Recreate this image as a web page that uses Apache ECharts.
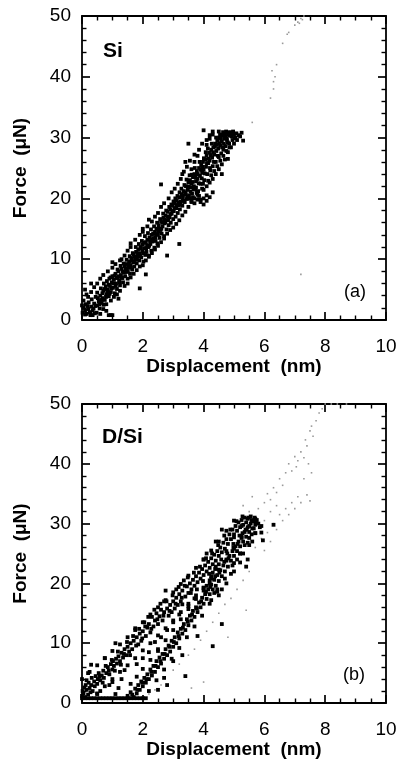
<!DOCTYPE html>
<html><head><meta charset="utf-8">
<script src="https://cdn.jsdelivr.net/npm/echarts@6/dist/echarts.min.js"></script>
<style>html,body{margin:0;padding:0;background:#fff}#c{width:398px;height:761px}</style>
</head><body><div id="c"></div>
<script>
const xTicks = [0, 2, 4, 6, 8, 10];
const yTicks = [0, 10, 20, 30, 40, 50];
const xMinorPerMajor = 4;
const yMinorPerMajor = 5;
const xTitle = "Displacement  (nm)";
const yTitle = "Force  (\u03bcN)";
const panelLabels = ["Si", "D/Si"];
const panelTags = ["(a)", "(b)"];

// ---- Panel (a) Si ----
const siDark = [
[0.02,1.2],[0.05,2.0],[0.1,1.5],[0.12,2.6],[0.15,1.0],[0.2,1.8],[0.22,2.9],[0.25,1.3],[0.3,2.2],[0.32,3.4],[0.35,1.6],[0.4,2.7],[0.42,1.1],[0.45,3.8],[0.5,2.4],[0.5,4.5],[0.55,3.1],[0.58,1.9],[0.6,4.0],[0.62,5.2],[0.65,2.8],[0.68,3.6],[0.7,4.8],[0.72,6.0],[0.75,3.3],[0.78,5.5],[0.8,4.2],[0.82,6.4],[0.85,5.0],[0.88,3.9],[0.9,6.8],[0.92,5.6],[0.95,4.6],[0.98,6.2],[1.0,7.2],[1.02,5.3],[1.05,6.6],[1.08,4.4],[1.1,7.6],[1.12,6.0],[1.15,5.1],[1.18,7.0],[1.2,8.0],[1.22,6.5],[1.25,5.7],[1.28,7.4],[1.3,8.4],[1.33,6.9],[1.35,6.2],[1.38,7.8],[1.4,8.8],[1.42,7.2],[1.45,9.2],[1.48,8.1],[1.5,6.8],[1.52,8.6],[1.55,9.6],[1.58,7.6],[1.6,9.0],[1.62,10.2],[1.65,8.3],[1.68,9.5],[1.7,10.8],[1.72,8.8],[1.75,9.9],[1.78,11.2],[1.8,9.3],[1.82,10.5],[1.85,11.6],[1.88,9.8],[1.9,10.9],[1.92,12.0],[1.95,10.3],[1.98,11.3],[2.0,12.4],[2.02,9.6],[2.05,11.8],[2.08,10.7],[2.1,12.8],[2.12,11.2],[2.15,13.2],[2.18,12.0],[2.2,10.6],[2.22,13.6],[2.25,12.5],[2.28,11.4],[2.3,14.0],[2.32,12.9],[2.35,13.4],[2.38,11.9],[2.4,14.5],[2.42,13.0],[2.45,15.0],[2.48,12.6],[2.5,14.0],[2.52,15.6],[2.55,13.5],[2.58,14.8],[2.6,16.2],[2.62,14.2],[2.65,15.4],[2.68,16.8],[2.7,13.8],[2.72,15.9],[2.75,17.2],[2.78,14.9],[2.8,16.4],[2.82,17.8],[2.85,15.6],[2.88,16.9],[2.9,18.2],[2.92,16.0],[2.95,17.5],[2.98,18.8],[3.0,16.6],[3.02,17.9],[3.05,19.2],[3.08,17.0],[3.1,18.4],[3.12,19.7],[3.15,17.6],[3.18,18.9],[3.2,20.2],[3.22,18.2],[3.25,19.5],[3.28,20.7],[3.3,18.8],[3.32,20.0],[3.35,21.2],[3.38,19.4],[3.4,20.6],[3.42,22.0],[3.45,19.9],[3.48,21.4],[3.5,22.6],[3.52,20.5],[3.55,23.0],[3.58,21.8],[3.6,22.4],[3.62,20.8],[3.65,23.5],[3.68,22.0],[3.7,24.0],[3.72,21.5],[3.75,22.8],[3.78,24.5],[3.8,23.2],[3.82,21.2],[3.85,25.0],[3.88,23.7],[3.9,22.4],[3.92,25.5],[3.95,24.2],[3.98,26.0],[4.0,24.7],[4.02,23.0],[4.05,26.4],[4.08,25.2],[4.1,27.0],[4.12,24.0],[4.15,25.8],[4.18,27.5],[4.2,26.2],[4.22,24.6],[4.25,28.0],[4.28,26.7],[4.3,25.3],[4.32,28.4],[4.35,27.2],[4.38,29.0],[4.4,26.0],[4.42,27.8],[4.45,29.5],[4.48,28.2],[4.5,26.8],[4.52,30.0],[4.55,28.7],[4.58,27.4],[4.6,29.3],[4.62,30.4],[4.65,28.0],[4.68,29.8],[4.7,30.6],[4.72,28.6],[4.75,29.9],[4.78,30.8],[4.8,29.2],[4.85,30.3],[4.9,30.7],[4.95,29.6],[5.0,30.5],[5.05,30.0],[5.15,30.4],[5.25,30.8],[5.3,29.5],
[4.0,31.2],[3.5,29.0],[2.6,22.3],[2.2,16.5],[2.0,15.0],[1.6,12.0],[1.3,10.0],[1.0,9.5],[0.3,6.0],[0.1,5.0],[0.15,4.2],[2.8,10.6],[3.2,12.5],[1.9,5.2],[0.8,1.5],[4.3,21.0],[4.0,20.0],[3.9,19.8],[4.1,20.5],[4.6,24.0],[4.8,26.5],[3.3,24.0],[3.4,26.0],[1.2,3.5],[2.1,7.5],
[0.28,0.8],[0.35,0.8],[0.88,0.8],[0.95,0.8],[1.0,0.8]
];
const siDarkFill = [
[0.1,0.9],[0.18,2.3],[0.28,1.1],[0.38,1.9],[0.44,2.3],[0.48,1.2],[0.52,3.6],[0.57,2.6],[0.63,3.3],[0.67,4.4],[0.71,2.5],[0.74,5.1],[0.79,3.8],[0.83,4.7],[0.87,5.8],[0.91,4.3],[0.94,7.0],[0.97,5.2],[1.03,6.0],[1.07,7.3],[1.11,5.6],[1.14,6.9],[1.17,8.3],[1.21,7.2],[1.24,6.2],[1.27,8.9],[1.31,7.0],[1.34,8.0],[1.37,9.3],[1.41,7.9],[1.44,8.5],[1.47,9.9],[1.51,7.9],[1.54,9.1],[1.57,10.5],[1.61,8.6],[1.64,9.8],[1.67,11.0],[1.71,9.6],[1.74,10.4],[1.77,12.0],[1.81,10.0],[1.84,11.0],[1.87,12.5],[1.91,10.5],[1.94,11.8],[1.97,13.0],[2.01,11.0],[2.04,12.7],[2.07,13.8],[2.11,11.8],[2.14,12.3],[2.17,14.3],[2.21,12.2],[2.24,13.0],[2.27,14.9],[2.31,13.3],[2.34,14.2],[2.37,15.4],[2.41,13.6],[2.44,14.1],[2.47,16.0],[2.51,14.6],[2.54,15.0],[2.57,16.6],[2.61,15.0],[2.64,16.0],[2.67,17.5],[2.71,16.5],[2.74,16.1],[2.77,18.0],[2.81,17.0],[2.84,16.6],[2.87,18.6],[2.91,17.4],[2.94,19.0],[2.97,17.9],[3.01,19.5],[3.04,18.4],[3.07,20.0],[3.11,18.9],[3.14,20.4],[3.17,19.3],[3.21,21.0],[3.24,19.0],[3.27,21.6],[3.31,20.5],[3.34,19.6],[3.37,22.2],[3.41,21.0],[3.44,23.1],[3.47,20.3],[3.51,21.9],[3.54,23.8],[3.57,21.1],[3.61,23.9],[3.64,22.7],[3.67,21.5],[3.71,25.0],[3.74,23.4],[3.77,20.9],[3.81,24.0],[3.84,22.5],[3.87,26.0],[3.91,24.7],[3.94,23.3],[3.97,25.2],[4.01,26.6],[4.04,24.1],[4.07,27.6],[4.11,25.8],[4.14,28.2],[4.17,26.5],[4.21,25.0],[4.24,27.1],[4.27,29.0],[4.31,27.6],[4.34,26.0],[4.37,28.5],[4.41,30.0],[4.44,28.8],[4.47,27.0],[4.51,29.1],[4.54,30.5],[4.57,29.8],[4.61,28.4],[4.64,30.9],[4.67,29.0],[4.71,30.2],[4.74,31.0],[4.77,29.6],[4.81,30.5],[4.84,29.0],[4.87,30.9],[4.93,30.2],[4.97,31.0],[5.02,29.9],[5.08,30.7],[5.2,30.2],[3.55,20.0],[3.65,20.2],[3.75,21.8],[3.85,20.4],[3.95,21.6],[3.6,24.8],[3.7,26.0],[3.8,27.0],[4.1,28.8],[4.2,29.8],[4.3,30.5],[4.5,31.0],[3.98,22.4],[4.15,22.9],[4.25,23.8],[4.35,24.5],[4.45,25.3],[4.55,26.2],[4.65,27.0],[4.75,27.8],[4.85,28.4]
];
const siEdges = [
[0.0,2.4],[0.05,3.2],[0.2,3.8],[0.3,4.6],[0.4,5.4],[0.5,6.0],[0.6,6.8],[0.7,7.4],[0.85,8.0],[1.0,8.6],[1.1,9.2],[1.25,9.8],[1.4,10.6],[1.5,11.4],[1.6,12.6],[1.75,13.2],[1.9,14.0],[2.0,14.5],[2.15,15.4],[2.3,16.2],[2.4,17.0],[2.5,17.6],[2.6,18.6],[2.7,19.2],[2.85,20.0],[2.95,21.0],[3.05,21.6],[3.15,22.4],[3.25,23.2],[3.35,24.4],[3.45,25.2],[3.55,26.2],[3.7,27.2],[3.85,28.0],[3.95,29.0],[4.1,29.6],[4.2,30.4],[4.3,31.0],
[0.6,1.0],[0.7,1.8],[0.8,2.6],[0.95,3.2],[1.05,3.8],[1.15,4.2],[1.25,4.8],[1.4,5.6],[1.5,6.0],[1.6,7.0],[1.7,7.6],[1.8,8.2],[1.9,8.8],[2.0,9.0],[2.1,9.8],[2.2,10.4],[2.3,11.0],[2.4,11.6],[2.5,12.2],[2.6,12.8],[2.7,13.4],[2.8,14.2],[2.9,14.8],[3.0,15.2],[3.1,15.8],[3.2,16.4],[3.3,17.2],[3.4,17.8],[3.5,18.6],[3.6,19.4],[3.7,20.0],[3.8,20.6],[4.0,21.4],[4.1,22.0],[4.2,22.6],[4.3,23.2],[4.4,24.0],[4.5,24.8],[4.6,25.6],[4.7,26.4],[4.8,27.6],[4.9,28.4],[5.0,29.0],[5.1,29.6],
[3.6,19.6],[3.7,19.2],[3.8,19.8],[3.9,19.4],[4.0,19.0],[4.1,19.6],[4.2,20.2]
];
const siFaint = [
[5.6,32.5],[6.2,36.5],[6.3,38],[6.35,40],[6.25,41],[6.3,39.2],[6.4,42],[6.6,45.5],[6.75,47],[7.0,48.5],[7.1,49],[7.2,49.6],[7.3,50],[7.15,48.8],[7.25,49.4],[6.8,47.3],[7.2,7.5]
];

// ---- Panel (b) D/Si ----
const dsiLoad = [
[0.0,1.2],[0.02,2.0],[0.05,1.6],[0.08,2.6],[0.1,1.0],[0.12,3.0],[0.15,2.2],[0.2,1.4],[0.22,3.4],[0.25,2.5],[0.3,3.0],[0.32,4.2],[0.35,2.0],[0.4,3.6],[0.45,4.5],[0.5,3.2],[0.52,4.0],[0.55,5.0],[0.6,3.8],[0.65,4.6],[0.7,5.4],[0.72,4.2],[0.75,7.5],[0.8,5.0],[0.85,6.0],[0.9,4.8],[0.95,6.5],[1.0,5.6],[1.02,7.0],[1.05,6.2],[1.1,10.0],[1.12,7.4],[1.15,6.6],[1.2,7.8],[1.25,7.0],[1.3,8.4],[1.35,7.6],[1.4,9.0],[1.45,8.0],[1.5,9.4],[1.55,8.6],[1.6,10.0],[1.65,9.0],[1.7,10.4],[1.75,12.5],[1.8,11.0],[1.85,9.8],[1.9,11.6],[1.95,10.4],[2.0,12.0],[2.05,13.5],[2.1,11.2],[2.15,12.6],[2.2,13.2],[2.25,11.8],[2.3,14.4],[2.35,12.8],[2.4,13.8],[2.45,15.0],[2.5,13.2],[2.55,14.5],[2.6,15.6],[2.65,13.8],[2.7,15.2],[2.75,18.8],[2.8,15.8],[2.85,14.6],[2.9,16.4],[2.95,15.2],[3.0,17.0],[3.05,15.8],[3.1,17.6],[3.15,16.4],[3.2,18.2],[3.25,17.0],[3.3,18.8],[3.35,20.5],[3.4,17.8],[3.45,19.5],[3.5,18.4],[3.55,20.0],[3.6,19.0],[3.65,20.6],[3.7,19.6],[3.75,21.2],[3.8,20.2],[3.85,21.8],[3.9,20.8],[3.95,22.4],[4.0,21.4],[4.05,23.0],[4.1,22.0],[4.15,23.6],[4.2,22.6],[4.25,24.2],[4.3,23.2],[4.35,24.8],[4.4,23.8],[4.45,25.4],[4.5,24.6],[4.55,26.0],[4.6,25.2],[4.65,26.8],[4.7,25.8],[4.75,27.4],[4.8,26.6],[4.85,28.2],[4.9,27.4],[4.95,29.0],[5.0,28.2],[5.05,29.6],[5.1,28.8],[5.15,30.2],[5.2,29.4],[5.25,30.6],[5.3,29.8],[5.35,31.0],[5.4,30.2],[5.45,30.8],[5.5,29.6],[5.55,31.2],[5.6,30.4],[5.65,29.2],[5.7,30.8],
[0.15,3.8],[0.28,1.8],[0.42,2.8],[0.58,4.4],[0.68,3.4],[0.78,6.2],[0.88,5.4],[0.98,7.2],[1.08,5.4],[1.18,8.6],[1.28,6.4],[1.38,8.2],[1.48,10.2],[1.58,8.0],[1.68,11.2],[1.78,9.6],[1.88,12.4],[1.98,10.8],[2.08,12.8],[2.18,14.4],[2.28,12.4],[2.38,15.6],[2.48,14.0],[2.58,16.6],[2.68,14.6],[2.78,17.0],[2.88,15.4],[2.98,18.0],[3.08,16.6],[3.18,19.4],[3.28,17.6],[3.38,19.6],[3.48,21.0],[3.58,18.4],[3.68,21.8],[3.78,19.0],[3.88,22.8],[3.98,20.4],[4.08,24.2],[4.18,21.6],[4.28,25.0],[4.38,22.4],[4.48,26.4],[4.58,24.0],[4.68,28.0],[4.78,25.0],[4.88,29.0],[4.98,26.6],[5.08,30.4],[5.18,28.0],[5.28,31.2],[5.38,29.0],[5.48,31.0],[5.58,28.2],[5.68,31.0],
[0.0,4.0],[0.25,5.2],[0.5,6.3],[0.75,7.5],[1.0,8.7],[1.25,9.8],[1.5,11.0],[1.75,12.2],[2.0,13.5],[2.25,14.8],[2.5,16.0],[2.75,17.2],[3.0,18.5],[3.25,19.9],[3.5,21.3],[3.75,22.6],[4.0,24.0],[4.25,25.5],[4.5,27.0],[4.75,28.8],[5.0,30.5],
[0.5,1.6],[0.75,2.8],[1.0,4.0],[1.25,5.2],[1.5,6.3],[1.75,7.5],[2.0,8.8],[2.25,10.0],[2.5,11.3],[2.75,12.5],[3.0,13.8],[3.25,15.2],[3.5,16.6],[3.75,18.0],[4.0,19.3],[4.25,20.8],[4.5,22.3],[4.75,24.0],[5.0,25.8],[5.25,27.6]
];
const dsiUnload = [
[1.5,1.2],[1.6,1.8],[1.7,1.0],[1.75,2.4],[1.8,1.6],[1.85,3.0],[1.9,2.2],[1.95,3.6],[2.0,2.8],[2.05,4.2],[2.1,3.4],[2.15,4.8],[2.2,4.0],[2.25,5.6],[2.3,4.6],[2.35,6.2],[2.4,5.2],[2.45,7.0],[2.5,6.0],[2.55,7.6],[2.6,6.6],[2.65,8.2],[2.7,7.4],[2.75,9.0],[2.8,8.0],[2.85,9.6],[2.9,8.6],[2.95,10.4],[3.0,9.4],[3.05,11.0],[3.1,10.0],[3.15,11.8],[3.2,10.8],[3.25,12.4],[3.3,11.6],[3.35,13.2],[3.4,12.2],[3.45,14.0],[3.5,13.0],[3.55,14.6],[3.6,13.8],[3.65,15.4],[3.7,14.4],[3.75,16.0],[3.8,15.2],[3.85,16.8],[3.9,16.0],[3.95,17.6],[4.0,16.6],[4.05,18.2],[4.1,17.4],[4.15,19.0],[4.2,18.2],[4.25,19.8],[4.3,19.0],[4.35,20.6],[4.4,19.6],[4.45,21.4],[4.5,20.4],[4.55,22.2],[4.6,21.2],[4.65,23.0],[4.7,22.0],[4.75,23.8],[4.8,22.8],[4.85,24.6],[4.9,23.8],[4.95,25.4],[5.0,24.6],[5.05,26.2],[5.1,25.4],[5.15,27.0],[5.2,26.2],[5.25,27.8],[5.3,27.0],[5.35,28.6],[5.4,27.8],[5.45,29.4],[5.5,28.6],[5.55,30.0],[5.6,29.2],[5.65,30.4],[5.7,29.8],[5.75,30.6],[5.8,30.0],[5.85,29.4],[5.6,27.0],[5.7,28.4],[5.5,26.4],[5.45,24.0],[5.3,25.0],
[1.65,1.4],[1.82,2.2],[1.98,3.4],[2.12,4.0],[2.28,5.2],[2.42,6.2],[2.58,7.0],[2.72,8.2],[2.88,9.4],[3.02,10.2],[3.18,11.2],[3.32,12.6],[3.48,13.6],[3.62,14.8],[3.78,15.8],[3.92,17.0],[4.08,18.6],[4.22,19.4],[4.38,21.2],[4.52,21.8],[4.68,23.6],[4.82,24.2],[4.98,26.0],[5.12,26.6],[5.28,28.4],[5.42,29.0],[5.58,30.6],[5.72,30.2],[4.9,21.6],[5.0,23.4],[5.1,24.0],[5.2,25.0],[5.35,26.4],[5.5,27.6],[4.4,22.8],[4.3,21.8],[4.2,20.0],[4.1,19.6],[4.0,18.8],[4.25,17.2],[4.35,18.4],[4.45,19.0],
[1.6,3.2],[1.8,4.4],[2.0,5.7],[2.25,7.2],[2.5,8.7],[2.75,10.5],[3.0,12.2],[3.25,14.0],[3.5,15.7],[3.75,17.4],[4.0,19.2],[4.25,21.2],[4.5,23.2],[4.75,25.4],[5.0,27.7],[5.25,29.6],
[2.2,2.0],[2.45,3.8],[2.7,5.6],[2.95,7.4],[3.2,9.2],[3.45,11.0],[3.7,12.8],[3.95,14.6],[4.2,16.6],[4.45,18.6],[4.7,20.8],[4.95,23.0],[5.2,25.0],[5.45,26.8],[5.7,28.4],[5.9,29.6]
];
const dsiScatter = [
[0.3,6.4],[0.2,5.0],[1.0,3.5],[1.3,4.0],[1.2,2.5],[0.6,2.0],[0.9,3.0],[1.4,5.5],[1.8,6.5],[2.0,7.5],[2.2,8.5],[2.4,10.2],[2.6,11.0],[2.8,12.2],[3.0,13.5],[3.2,14.8],[3.5,16.2],[3.7,17.5],[2.5,9.0],[2.7,17.0],[3.1,19.0],[3.3,16.5],[4.5,18.0],[4.6,19.0],[4.2,20.5],[4.0,24.0],[4.1,25.0],[4.4,27.0],[4.6,29.0],[3.0,7.0],[3.3,8.0],[3.4,4.5],[3.8,11.2],[4.3,9.5],[4.6,13.2],[2.7,4.2],[2.5,2.2],[2.8,3.0],[1.1,1.5],[0.5,1.5],[6.3,29.8],[5.9,28.5],[5.95,27.2],[4.75,20.0],[5.0,22.0],[5.2,23.5],[5.4,22.8]
];
const dsiZero = [
[0.0,0.8],[0.1,0.8],[0.2,0.8],[0.3,0.8],[0.4,0.8],[0.5,0.8],[0.6,0.8],[0.7,0.8],[0.8,0.8],[0.9,0.8],[1.0,0.8],[1.1,0.8],[1.2,0.8],[1.3,0.8],[1.4,0.8],[1.5,0.8],[1.6,0.8],[1.7,0.8],[1.8,0.8],[1.9,0.8],[2.0,0.8],[2.1,0.8]
];
const dsiFaint = [
[5.8,32.5],[6.0,33.5],[6.1,35],[6.2,34],[6.3,36],[6.4,35.2],[6.5,37.5],[6.6,36.4],[6.7,38.5],[6.8,40],[6.9,38.8],[7.0,41.2],[7.05,39.5],[7.1,40.5],[7.2,42],[7.3,41],[7.35,44],[7.4,43],[7.5,45.5],[7.55,46.3],[7.6,44.6],[7.7,47.2],[7.8,48.5],[7.9,49.2],[8.0,50],[8.2,50],[8.4,50],[8.7,50],[7.45,40.0],[7.55,38.5],[7.3,37.5],
[5.7,26],[5.9,27.5],[6.0,25.5],[6.1,28.5],[6.2,27],[6.3,30],[6.4,29],[6.5,31.5],[6.6,30.5],[6.7,32.5],[6.8,31.5],[6.9,33.5],[7.0,32.5],[7.1,34.5],[7.2,33.5],[7.4,34.8],[7.5,33.8],[6.0,30.5],[6.2,32.0],[6.4,33.0],[5.5,32.0],[5.3,33.0],[5.6,34.5],
[3.0,5.5],[3.2,6.5],[3.5,8.0],[3.7,9.0],[3.9,10.5],[4.1,12.0],[4.3,13.5],[4.5,15.0],[4.7,16.5],[4.9,17.5],[5.1,19.0],[5.3,20.5],[5.5,22],[2.2,1.5],[2.4,2.2],[2.6,3.0],[4.8,11.0],[5.4,15.5],[4.0,3.5],[3.6,2.5]
];

const FONT = "'Liberation Sans', Arial, Helvetica, sans-serif";
const chart = echarts.init(document.getElementById('c'));

const grids = [
  {left: 82, top: 16, width: 304, height: 304, outerBoundsMode: 'none', containLabel: false},
  {left: 82, top: 404, width: 304, height: 299, outerBoundsMode: 'none', containLabel: false}
];
const tickStyle = {show: true, inside: true, length: 8, lineStyle: {color: '#000', width: 1.7}};
function xAx(g, main) {
  return {
    type: 'value', gridIndex: g, min: xTicks[0], max: xTicks[xTicks.length - 1], interval: xTicks[1] - xTicks[0],
    position: main ? 'bottom' : 'top',
    axisLine: {show: true, onZero: false, lineStyle: {color: '#000', width: 1.8}},
    axisTick: tickStyle,
    minorTick: {show: true, splitNumber: xMinorPerMajor, length: 4.5, lineStyle: {color: '#000', width: 1.4}},
    splitLine: {show: false}, minorSplitLine: {show: false},
    axisLabel: {show: main, color: '#000', fontSize: 19, fontFamily: FONT, margin: 17},
    name: main ? xTitle : '', nameLocation: 'middle', nameGap: 32,
    nameTextStyle: {color: '#000', fontSize: 19, fontWeight: 'bold', fontFamily: FONT}
  };
}
function yAx(g, main) {
  return {
    type: 'value', gridIndex: g, min: yTicks[0], max: yTicks[yTicks.length - 1], interval: yTicks[1] - yTicks[0],
    position: main ? 'left' : 'right',
    axisLine: {show: true, onZero: false, lineStyle: {color: '#000', width: 1.8}},
    axisTick: tickStyle,
    minorTick: {show: true, splitNumber: yMinorPerMajor, length: 4.5, lineStyle: {color: '#000', width: 1.4}},
    splitLine: {show: false}, minorSplitLine: {show: false},
    axisLabel: {show: main, color: '#000', fontSize: 19, fontFamily: FONT, margin: 11},
    name: main ? yTitle : '', nameLocation: 'middle', nameGap: 52,
    nameTextStyle: {color: '#000', fontSize: 19, fontWeight: 'bold', fontFamily: FONT}
  };
}
function sc(xi, yi, data, color, size) {
  return {type: 'scatter', xAxisIndex: xi, yAxisIndex: yi, data: data, symbol: 'rect',
    symbolSize: size, itemStyle: {color: color, opacity: 1}, silent: true, clip: false};
}
const DARK = 3.8, FAINT = 1.6;
chart.setOption({
  animation: false,
  backgroundColor: '#fff',
  grid: grids,
  xAxis: [xAx(0, true), xAx(0, false), xAx(1, true), xAx(1, false)],
  yAxis: [yAx(0, true), yAx(0, false), yAx(1, true), yAx(1, false)],
  series: [
    sc(0, 0, siFaint, '#9a9a9a', FAINT),
    sc(0, 0, siDark, '#000', DARK),
    sc(0, 0, siDarkFill, '#000', DARK),
    sc(0, 0, siEdges, '#000', DARK),
    sc(2, 2, dsiFaint, '#9a9a9a', FAINT),
    sc(2, 2, dsiLoad, '#000', DARK),
    sc(2, 2, dsiUnload, '#000', DARK),
    sc(2, 2, dsiScatter, '#000', DARK),
    sc(2, 2, dsiZero, '#000', DARK)
  ],
  graphic: [
    {type: 'text', x: 103, y: 51, style: {text: panelLabels[0], font: "bold 21px " + FONT, fill: '#000', verticalAlign: 'middle', textVerticalAlign: 'middle'}},
    {type: 'text', x: 102, y: 437, style: {text: panelLabels[1], font: "bold 21px " + FONT, fill: '#000', verticalAlign: 'middle', textVerticalAlign: 'middle'}},
    {type: 'text', x: 344, y: 292, style: {text: panelTags[0], font: "18px " + FONT, fill: '#000', verticalAlign: 'middle', textVerticalAlign: 'middle'}},
    {type: 'text', x: 343, y: 675, style: {text: panelTags[1], font: "18px " + FONT, fill: '#000', verticalAlign: 'middle', textVerticalAlign: 'middle'}}
  ]
});
</script>
</body></html>
